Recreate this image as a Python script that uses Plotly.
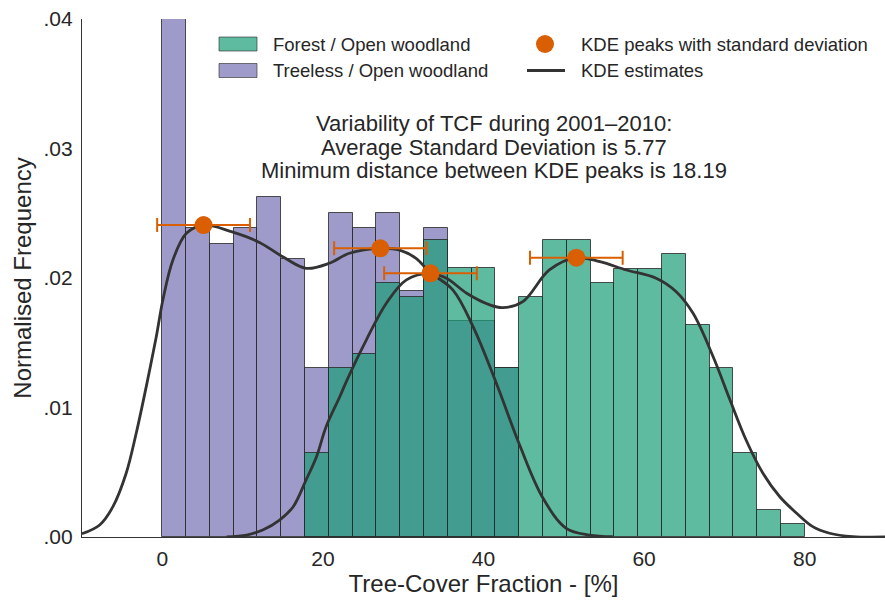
import numpy as np
import plotly.graph_objects as go

# ---------------- data ----------------
bin_start, bin_end, n_bins = 0.0, 80.0, 27
bin_edges = np.linspace(bin_start, bin_end, n_bins + 1)
bin_width = (bin_end - bin_start) / n_bins
bin_centers = (bin_edges[:-1] + bin_edges[1:]) / 2

# Treeless / Open woodland occupies bins 0..14
treeless_first_bin = 0
treeless_heights = [0.0460, 0.02384, 0.02265, 0.02384, 0.02625, 0.02147, 0.01308,
                    0.02505, 0.02384, 0.02505, 0.01902, 0.02384, 0.01668, 0.01668,
                    0.01308]
# Forest / Open woodland occupies bins 6..26
forest_first_bin = 6
forest_heights = [0.00646, 0.01308, 0.01416, 0.01964, 0.01856, 0.02291, 0.02075,
                  0.02075, 0.01308, 0.01853, 0.02291, 0.02291, 0.01964, 0.02072,
                  0.02072, 0.02183, 0.01635, 0.01308, 0.00646, 0.00206, 0.00100]

treeless_kde_x = [-10, -7.8, -6.15, -4.5, -3.25, -2.0, -0.75, 0.07, 1.32, 3.0, 5.14,
                  8.6, 12.1, 15.0, 17.9, 20.8, 23.3, 27.15, 29.55, 31.6, 33.3, 36.2,
                  38.7, 41.6, 44.5, 47.4, 50.3, 53.2, 56.1]
treeless_kde_y = [0.00025, 0.00093, 0.00234, 0.00492, 0.00801, 0.01161, 0.01547,
                  0.0183, 0.02139, 0.02345, 0.02409, 0.02358, 0.02275, 0.02164,
                  0.02075, 0.02114, 0.02191, 0.02229, 0.02216, 0.02152, 0.02046,
                  0.01907, 0.01624, 0.01187, 0.0071, 0.00301, 0.00067, 0.00015,
                  0.00002]

forest_kde_x = [8.0, 10.5, 12.5, 14.6, 16.3, 17.9, 19.2, 20.4, 22.1, 23.0, 25.4, 27.9,
                30.4, 33.4, 35.4, 37.9, 40.8, 42.4, 44.9, 48.2, 51.56, 54.5, 57.8,
                61.5, 64.0, 66.1, 68.6, 70.7, 72.7, 74.8, 76.9, 79.0, 81.0, 83.1,
                86.0, 90.0]
forest_kde_y = [0.0, 0.00015, 0.00054, 0.00131, 0.00234, 0.0044, 0.0062, 0.00852,
                0.01083, 0.01212, 0.01521, 0.01805, 0.01985, 0.02036, 0.01998,
                0.01882, 0.01792, 0.01771, 0.01817, 0.02062, 0.02157, 0.02126,
                0.02062, 0.01998, 0.01894, 0.01727, 0.01392, 0.01058, 0.00749,
                0.00492, 0.00311, 0.00183, 0.0008, 0.00029, 0.00003, 0.0]

peak_x = [5.14, 27.15, 33.4, 51.56]
peak_y = [0.02409, 0.02229, 0.02036, 0.02157]
peak_sd = [5.78, 5.75, 5.77, 5.77]

x_ticks = [0, 20, 40, 60, 80]
y_ticks = [0.0, 0.01, 0.02, 0.03, 0.04]
y_tick_labels = [".00", ".01", ".02", ".03", ".04"]

legend_labels = ["Forest / Open woodland", "Treeless / Open woodland",
                 "KDE peaks with standard deviation", "KDE estimates"]
info_lines = ["Variability of TCF during 2001\u20132010:",
              "Average Standard Deviation is 5.77",
              "Minimum distance between KDE peaks is 18.19"]

# ---------------- style ----------------
FONT = "Liberation Sans, Arial, Helvetica, sans-serif"
TXT = "#262626"
PURPLE = "rgba(117,112,179,0.7)"
GREEN = "rgba(27,158,119,0.7)"
EDGE = "rgba(38,38,38,0.8)"
ORANGE = "#d95f02"
KDE_COL = "#333333"

W, H = 885, 601
L, R, T, B = 82, 0, 19, 64
PW, PH = W - L - R, H - T - B


def px(xp):
    return (xp - L) / PW


def py(yp):
    return (H - B - yp) / PH


fig = go.Figure()

tl_idx = list(range(treeless_first_bin, treeless_first_bin + len(treeless_heights)))
fo_idx = list(range(forest_first_bin, forest_first_bin + len(forest_heights)))

fig.add_trace(go.Bar(
    x=[bin_centers[i] for i in tl_idx], y=treeless_heights, width=bin_width,
    marker=dict(color=PURPLE, line=dict(color=EDGE, width=1)),
    name=legend_labels[1], showlegend=False))
fig.add_trace(go.Bar(
    x=[bin_centers[i] for i in fo_idx], y=forest_heights, width=bin_width,
    marker=dict(color=GREEN, line=dict(color=EDGE, width=1)),
    name=legend_labels[0], showlegend=False))

fig.add_trace(go.Scatter(x=treeless_kde_x, y=treeless_kde_y, mode="lines",
                         line=dict(color=KDE_COL, width=2.8, shape="spline"),
                         showlegend=False))
fig.add_trace(go.Scatter(x=forest_kde_x, y=forest_kde_y, mode="lines",
                         line=dict(color=KDE_COL, width=2.8, shape="spline"),
                         showlegend=False))

fig.add_trace(go.Scatter(
    x=peak_x, y=peak_y, mode="markers",
    marker=dict(color=ORANGE, size=18),
    error_x=dict(type="data", array=peak_sd, color=ORANGE, thickness=2, width=7),
    showlegend=False))

# ---------------- manual legend ----------------
shapes = []
annotations = []
patch_x0, patch_x1 = 219, 257
rows = [44, 70.5]
for yc, col in zip(rows, [GREEN, PURPLE]):
    shapes.append(dict(type="rect", xref="paper", yref="paper",
                       x0=px(patch_x0), x1=px(patch_x1),
                       y0=py(yc + 7), y1=py(yc - 7),
                       fillcolor=col, line=dict(color="rgba(38,38,38,0.6)", width=1)))
shapes.append(dict(type="circle", xref="paper", yref="paper",
                   x0=px(545 - 9), x1=px(545 + 9), y0=py(44 + 9), y1=py(44 - 9),
                   fillcolor=ORANGE, line=dict(width=0)))
shapes.append(dict(type="line", xref="paper", yref="paper",
                   x0=px(527), x1=px(565), y0=py(70.5), y1=py(70.5),
                   line=dict(color=KDE_COL, width=2.8)))

legend_pos = [(271, rows[0], legend_labels[0]), (271, rows[1], legend_labels[1]),
              (579, rows[0], legend_labels[2]), (579, rows[1], legend_labels[3])]
for xp, yp, txt in legend_pos:
    annotations.append(dict(x=px(xp), y=py(yp), xref="paper", yref="paper",
                            text=txt, showarrow=False, xanchor="left",
                            yanchor="middle", font=dict(size=18.5, color=TXT, family=FONT)))

for yp, line in zip([123, 147.5, 171], info_lines):
    annotations.append(dict(x=px(494), y=py(yp), xref="paper", yref="paper",
                            text=line, showarrow=False, xanchor="center",
                            yanchor="middle",
                            font=dict(size=22, color=TXT, family=FONT)))

fig.update_layout(
    width=W, height=H,
    margin=dict(l=L, r=R, t=T, b=B, autoexpand=False),
    plot_bgcolor="white", paper_bgcolor="white",
    barmode="overlay", bargap=0,
    font=dict(family=FONT, color=TXT),
    shapes=shapes, annotations=annotations,
    xaxis=dict(range=[-10, 90], tickvals=x_ticks, showgrid=False, zeroline=False,
               showline=True, linecolor="#333333", linewidth=1.3, ticks="",
               ticklabelstandoff=3, tickfont=dict(size=21, color=TXT, family=FONT),
               title=dict(text="Tree-Cover Fraction - [%]", standoff=3,
                          font=dict(size=24, color=TXT, family=FONT)),
               automargin=False),
    yaxis=dict(range=[0, 0.04], tickvals=y_ticks, ticktext=y_tick_labels,
               showgrid=False, zeroline=False, showline=True, linecolor="#333333",
               linewidth=1.3, ticks="", ticklabelstandoff=4,
               tickfont=dict(size=21, color=TXT, family=FONT),
               title=dict(text="Normalised Frequency", standoff=5,
                          font=dict(size=24, color=TXT, family=FONT)),
               automargin=False),
)

fig.write_html("out.html")
